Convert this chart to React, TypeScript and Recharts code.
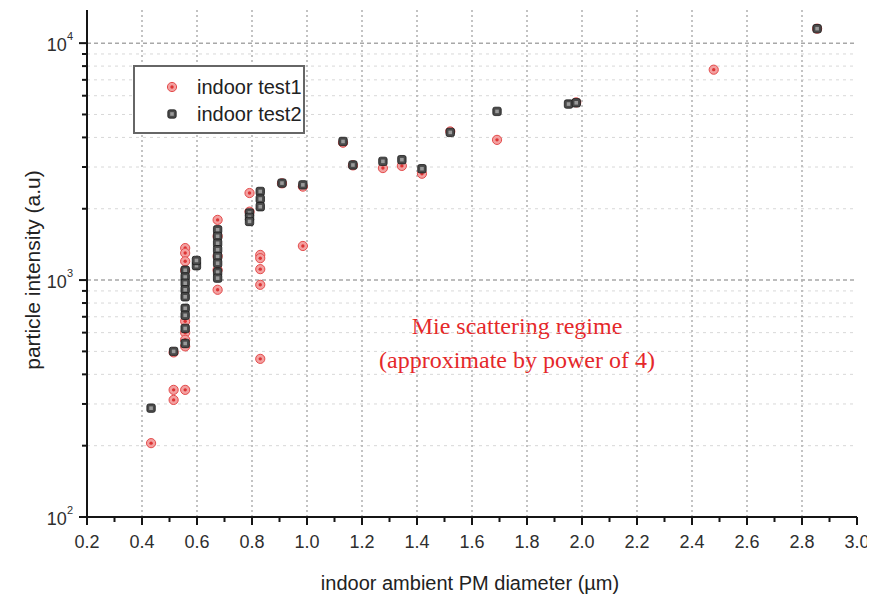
import React from 'react';
import { ScatterChart, Scatter, XAxis, YAxis, ReferenceLine, Legend, Customized } from 'recharts';

// ---------------- data ----------------
const test1Diameter = [
  0.433, 0.515, 0.515, 0.515, 0.557,
  0.557, 0.557, 0.557, 0.557, 0.557, 0.557, 0.557, 0.557,
  0.675, 0.675, 0.675, 0.675, 0.675,
  0.791, 0.791,
  0.83, 0.83, 0.83, 0.83, 0.83,
  0.909, 0.985, 0.985,
  1.131, 1.167, 1.276, 1.345, 1.418, 1.521, 1.691, 1.979, 2.479, 2.855,
];
const test1Intensity = [
  205, 312, 344, 495, 344,
  1365, 1300, 1200, 1100, 670, 600, 560, 525,
  1795, 1530, 1260, 1104, 910,
  2330, 1945,
  1277, 1237, 1112, 955, 465,
  2560, 1393, 2480,
  3800, 3048, 2970, 3033, 2810, 4239, 3906, 5623, 7727, 11510,
];
const test2Diameter = [
  0.433, 0.515,
  0.557, 0.557, 0.557, 0.557, 0.557, 0.557, 0.557, 0.557, 0.557,
  0.598, 0.598,
  0.675, 0.675, 0.675, 0.675, 0.675, 0.675, 0.675, 0.675,
  0.791, 0.791, 0.791,
  0.83, 0.83, 0.83,
  0.909, 0.985,
  1.131, 1.167, 1.276, 1.345, 1.418, 1.521, 1.691, 1.951, 1.979, 2.855,
];
const test2Intensity = [
  288, 500,
  1100, 1030, 970, 910, 850, 760, 710, 625, 540,
  1150, 1210,
  1630, 1530, 1430, 1343, 1257, 1178, 1080, 1019,
  1918, 1840, 1768,
  2366, 2198, 2040,
  2566, 2523,
  3846, 3060, 3170, 3222, 2951, 4200, 5151, 5532, 5600, 11510,
];

const seriesNames = ['indoor test1', 'indoor test2'];

const xMajorTicks = [0.2, 0.4, 0.6, 0.8, 1.0, 1.2, 1.4, 1.6, 1.8, 2.0, 2.2, 2.4, 2.6, 2.8, 3.0];
const xMinorTicks = [0.3, 0.5, 0.7, 0.9, 1.1, 1.3, 1.5, 1.7, 1.9, 2.1, 2.3, 2.5, 2.7, 2.9];
const xTickLabels = ['0.2', '0.4', '0.6', '0.8', '1.0', '1.2', '1.4', '1.6', '1.8', '2.0', '2.2', '2.4', '2.6', '2.8', '3.0'];
const yMajorTicks = [100, 1000, 10000];
const yMinorTicks = [200, 300, 400, 500, 600, 700, 800, 900, 2000, 3000, 4000, 5000, 6000, 7000, 8000, 9000];
const yExponents = ['2', '3', '4'];

const xDomain = [0.2, 3.0];
const yDomain = [100, 13800];

const xLabel = 'indoor ambient PM diameter (\u00b5m)';
const yLabel = 'particle intensity (a.u)';
const noteLines = ['Mie scattering regime', '(approximate by power of 4)'];

// ---------------- derived ----------------
const data1 = test1Diameter.map((d, i) => ({ d, v: test1Intensity[i] }));
const data2 = test2Diameter.map((d, i) => ({ d, v: test2Intensity[i] }));
const xAllTicks = [...xMajorTicks, ...xMinorTicks].sort((a, b) => a - b);
const yAllTicks = [...yMajorTicks, ...yMinorTicks].sort((a, b) => a - b);

const SANS = '"Liberation Sans", Arial, sans-serif';
const SERIF = '"Liberation Serif", "Times New Roman", serif';
const AXIS = '#151515';
const TICKTXT = '#2e2e2e';

const majorIndexX = (v: number) => xMajorTicks.findIndex((t) => Math.abs(t - v) < 1e-6);

const BottomTick = (props: any) => {
  const { x, y, payload } = props;
  const mi = majorIndexX(payload.value);
  const major = mi >= 0;
  return (
    <g>
      <line x1={x} x2={x} y1={y} y2={y + (major ? 8 : 5)} stroke={AXIS} strokeWidth={2} />
      {major && (
        <text x={x} y={y + 31} textAnchor="middle" fontSize={18} fill={TICKTXT} fontFamily={SANS}>
          {xTickLabels[mi]}
        </text>
      )}
    </g>
  );
};

const TopTick = (props: any) => {
  const { x, y, payload } = props;
  const major = majorIndexX(payload.value) >= 0;
  return <line x1={x} x2={x} y1={y} y2={y + (major ? 8 : 5)} stroke={AXIS} strokeWidth={2} />;
};

const LeftTick = (props: any) => {
  const { x, y, payload } = props;
  const mi = yMajorTicks.indexOf(payload.value);
  const major = mi >= 0;
  return (
    <g>
      <line x1={x - (major ? 8 : 5)} x2={x} y1={y} y2={y} stroke={AXIS} strokeWidth={2} />
      {major && (
        <text x={x - 14} y={y + 8} textAnchor="end" fontSize={18} fill={TICKTXT} fontFamily={SANS}>
          10
          <tspan dy={-11} fontSize={11}>
            {yExponents[mi]}
          </tspan>
        </text>
      )}
    </g>
  );
};

const RightTick = (props: any) => {
  const { x, y, payload } = props;
  const major = yMajorTicks.indexOf(payload.value) >= 0;
  return <line x1={x} x2={x - (major ? 8 : 5)} y1={y} y2={y} stroke={AXIS} strokeWidth={2} />;
};

const RedMark = (props: any) => {
  const { cx, cy } = props;
  if (cx == null || cy == null) return null;
  return (
    <g>
      <circle cx={cx} cy={cy} r={4.6} fill="#f3a0a0" stroke="#e44c4c" strokeWidth={1} />
      <circle cx={cx} cy={cy} r={1.7} fill="#dd3434" />
    </g>
  );
};

const BlackMark = (props: any) => {
  const { cx, cy } = props;
  if (cx == null || cy == null) return null;
  return (
    <g>
      <rect x={cx - 4.2} y={cy - 4.2} width={8.4} height={8.4} rx={2} fill="#4a4a4a" stroke="#1c1c1c" strokeWidth={0.8} />
      <rect x={cx - 1.8} y={cy - 1.8} width={3.6} height={3.6} fill="#9a9a9a" />
    </g>
  );
};

const LegendBox = () => (
  <div
    style={{
      width: 172,
      height: 69,
      boxSizing: 'border-box',
      border: '2px solid #666',
      background: '#fff',
      position: 'relative',
      fontFamily: SANS,
      fontSize: 20,
      color: '#222',
    }}
  >
    {seriesNames.map((name, i) => (
      <div key={name} style={{ position: 'absolute', left: 0, top: 8 + i * 27, height: 24, display: 'flex', alignItems: 'center' }}>
        <svg width={60} height={24} style={{ display: 'block' }}>
          {i === 0 ? <RedMark cx={37} cy={12} /> : <BlackMark cx={37} cy={12} />}
        </svg>
        <span style={{ marginLeft: 2, lineHeight: '24px' }}>{name}</span>
      </div>
    ))}
  </div>
);

const Annotations = () => (
  <g>
    <text x={509} y={326} textAnchor="middle" fontSize={24} fill="#e5282a" fontFamily={SERIF}>
      {noteLines[0]}
    </text>
    <text x={509} y={360} textAnchor="middle" fontSize={24} fill="#e5282a" fontFamily={SERIF}>
      {noteLines[1]}
    </text>
    <text x={462} y={582} textAnchor="middle" fontSize={20} fill="#222" fontFamily={SANS}>
      {xLabel}
    </text>
    <text
      x={0}
      y={0}
      transform="translate(32 262) rotate(-90)"
      textAnchor="middle"
      fontSize={21}
      fill="#222"
      fontFamily={SANS}
    >
      {yLabel}
    </text>
  </g>
);

export default function App() {
  return (
    <ScatterChart width={866} height={590} margin={{ top: 2, right: 17, bottom: 0, left: 0 }}>
      <XAxis
        xAxisId="b"
        dataKey="d"
        type="number"
        domain={xDomain}
        allowDataOverflow
        ticks={xAllTicks}
        interval={0}
        tick={<BottomTick />}
        tickLine={false}
        tickSize={0}
        tickMargin={0}
        height={81}
        axisLine={{ stroke: AXIS, strokeWidth: 2 }}
      />
      <XAxis
        xAxisId="t"
        orientation="top"
        type="number"
        domain={xDomain}
        allowDataOverflow
        ticks={xAllTicks}
        interval={0}
        tick={<TopTick />}
        tickLine={false}
        tickSize={0}
        tickMargin={0}
        height={0}
        axisLine={{ stroke: AXIS, strokeWidth: 2 }}
      />
      <YAxis
        yAxisId="l"
        dataKey="v"
        type="number"
        scale="log"
        domain={yDomain}
        allowDataOverflow
        ticks={yAllTicks}
        interval={0}
        tick={<LeftTick />}
        tickLine={false}
        tickSize={0}
        tickMargin={0}
        width={79}
        axisLine={{ stroke: AXIS, strokeWidth: 2 }}
      />
      <YAxis
        yAxisId="r"
        orientation="right"
        type="number"
        scale="log"
        domain={yDomain}
        allowDataOverflow
        ticks={yAllTicks}
        interval={0}
        tick={<RightTick />}
        tickLine={false}
        tickSize={0}
        tickMargin={0}
        width={0}
        axisLine={{ stroke: AXIS, strokeWidth: 2 }}
      />

      {yMinorTicks.map((v) => (
        <ReferenceLine key={'ym' + v} xAxisId="b" yAxisId="l" y={v} stroke="#d8d8d8" strokeWidth={1} strokeDasharray="3 4" />
      ))}
      {yMajorTicks.slice(1).map((v) => (
        <ReferenceLine key={'yM' + v} xAxisId="b" yAxisId="l" y={v} stroke="#a8a8a8" strokeWidth={1.5} strokeDasharray="4 3" />
      ))}
      {xMajorTicks.slice(1, -1).map((v) => (
        <ReferenceLine key={'xM' + v} xAxisId="b" yAxisId="l" x={v} stroke="#b0b0b0" strokeWidth={1.5} strokeDasharray="2 3" />
      ))}

      <Legend
        layout="vertical"
        align="center"
        verticalAlign="middle"
        content={<LegendBox />}
        wrapperStyle={{ left: 125, top: 57, width: 172, height: 69 }}
      />

      <Scatter
        name={seriesNames[0]}
        xAxisId="b"
        yAxisId="l"
        data={data1}
        fill="#e25050"
        shape={<RedMark />}
        isAnimationActive={false}
      />
      <Scatter
        name={seriesNames[1]}
        xAxisId="b"
        yAxisId="l"
        data={data2}
        fill="#222"
        shape={<BlackMark />}
        isAnimationActive={false}
      />
      <Customized component={<Annotations />} />
    </ScatterChart>
  );
}
